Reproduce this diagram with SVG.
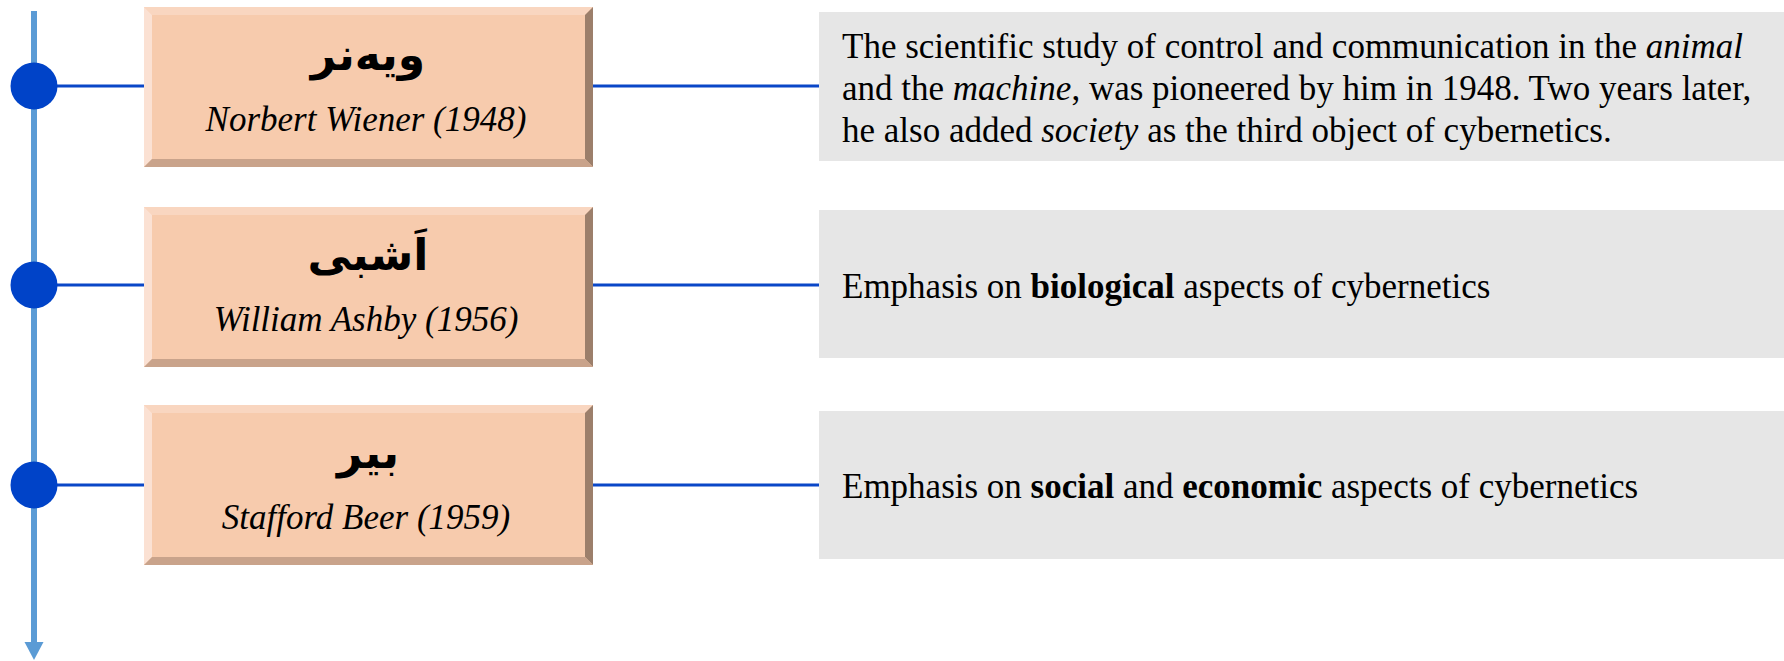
<svg xmlns="http://www.w3.org/2000/svg" width="1784" height="661" viewBox="0 0 1784 661">
  <defs>
    <style>
      .axis { stroke: #5b9bd5; stroke-width: 6; fill: none; }
      .link { stroke: #0a47c8; stroke-width: 3; fill: none; }
      .dot { fill: #0043c8; }
      .face { fill: #f7cbad; }
      .bev-top { fill: #f9d6c0; }
      .bev-left { fill: #fbe1d3; }
      .bev-right { fill: #9c7f6b; }
      .bev-bottom { fill: #c9a38b; }
      .note { fill: #e6e6e6; }
      .ar { font-family: "DejaVu Sans", "Noto Sans", sans-serif; font-weight: bold; font-size: 44px; fill: #000; text-anchor: middle; }
      .name { font-family: "Liberation Serif", "Times New Roman", serif; font-style: italic; font-size: 35px; fill: #000; text-anchor: middle; }
      .desc { font-family: "Liberation Serif", "Times New Roman", serif; font-size: 35px; fill: #000; }
      .it { font-style: italic; }
      .b { font-weight: bold; }
    </style>
    <!-- bevelled name plate, 449 x 160 -->
    <g id="plate">
      <rect class="face" x="0" y="0" width="449" height="160"/>
      <polygon class="bev-top" points="0,0 449,0 441,8 8,8"/>
      <polygon class="bev-left" points="0,0 8,8 8,152 0,160"/>
      <polygon class="bev-right" points="449,0 449,160 441,152 441,8"/>
      <polygon class="bev-bottom" points="0,160 8,152 441,152 449,160"/>
    </g>
  </defs>

  <!-- timeline axis -->
  <g id="timeline">
    <line class="axis" x1="34" y1="11" x2="34" y2="644"/>
    <polygon fill="#5b9bd5" points="24.5,642 43.5,642 34,660"/>
  </g>

  <!-- connectors: axis dot to plate, plate to note -->
  <g id="connectors">
    <line class="link" x1="34" y1="86" x2="144" y2="86"/>
    <line class="link" x1="593" y1="86" x2="819" y2="86"/>
    <line class="link" x1="34" y1="285" x2="144" y2="285"/>
    <line class="link" x1="593" y1="285" x2="819" y2="285"/>
    <line class="link" x1="34" y1="485" x2="144" y2="485"/>
    <line class="link" x1="593" y1="485" x2="819" y2="485"/>
  </g>

  <!-- milestone dots -->
  <g id="dots">
    <circle class="dot" cx="34" cy="86" r="23.5"/>
    <circle class="dot" cx="34" cy="285" r="23.5"/>
    <circle class="dot" cx="34" cy="485" r="23.5"/>
  </g>

  <!-- Wiener -->
  <g id="node-wiener">
    <use href="#plate" x="144" y="7"/>
    <text class="ar" x="368" y="70">ویەنر</text>
    <text class="name" x="366" y="131">Norbert Wiener (1948)</text>
  </g>
  <g id="note-wiener">
    <rect class="note" x="819" y="12" width="965" height="149"/>
    <text class="desc" x="842" y="58">The scientific study of control and communication in the <tspan class="it">animal</tspan></text>
    <text class="desc" x="842" y="100">and the <tspan class="it">machine</tspan>, was pioneered by him in 1948. Two years later,</text>
    <text class="desc" x="842" y="142">he also added <tspan class="it">society</tspan> as the third object of cybernetics.</text>
  </g>

  <!-- Ashby -->
  <g id="node-ashby">
    <use href="#plate" x="144" y="207"/>
    <text class="ar" x="368" y="270">اَشبی</text>
    <text class="name" x="366" y="331">William Ashby (1956)</text>
  </g>
  <g id="note-ashby">
    <rect class="note" x="819" y="210" width="965" height="148"/>
    <text class="desc" x="842" y="298">Emphasis on <tspan class="b">biological</tspan> aspects of cybernetics</text>
  </g>

  <!-- Beer -->
  <g id="node-beer">
    <use href="#plate" x="144" y="405"/>
    <text class="ar" x="368" y="468">بیر</text>
    <text class="name" x="366" y="529">Stafford Beer (1959)</text>
  </g>
  <g id="note-beer">
    <rect class="note" x="819" y="411" width="965" height="148"/>
    <text class="desc" x="842" y="498">Emphasis on <tspan class="b">social</tspan> and <tspan class="b">economic</tspan> aspects of cybernetics</text>
  </g>
</svg>
